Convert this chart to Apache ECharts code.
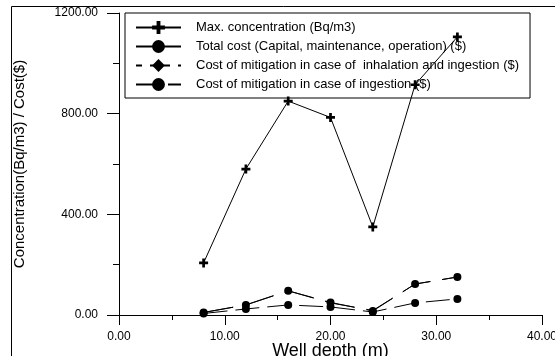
<!DOCTYPE html>
<html>
<head>
<meta charset="utf-8">
<script src="https://cdn.jsdelivr.net/npm/echarts@6/dist/echarts.min.js"></script>
<style>
  html, body { margin: 0; padding: 0; background: #fff; }
  #chart { width: 555px; height: 356px; }
</style>
</head>
<body>
<div id="chart"></div>
<script>
// well depth (m)
var depths = [8, 12, 16, 20, 24, 28, 32];
// values
var maxConc = [207, 580, 850, 785, 350, 915, 1105];
var totalCost = [10, 40, 96, 50, 16, 123, 151];
var inhalCost = [10, 40, 96, 48, 18, 123, 151];
var ingestCost = [6, 24, 40, 32, 12, 48, 64];

var names = [
  "Max. concentration (Bq/m3)",
  "Total cost (Capital, maintenance, operation) ($)",
  "Cost of mitigation in case of  inhalation and ingestion ($)",
  "Cost of mitigation in case of ingestion ($)"
];

var plus = "path://M3.5,0h3v3.5h3.5v3h-3.5v3.5h-3v-3.5h-3.5v-3h3.5z";
var font = "Liberation Sans, Arial, sans-serif";

function pairs(ys) {
  return depths.map(function (d, i) { return [d, ys[i]]; });
}

var chart = echarts.init(document.getElementById("chart"));
chart.setOption({
  animation: false,
  backgroundColor: "#fff",
  graphic: [{
    type: "rect",
    shape: { x: 11.5, y: 6.5, width: 600, height: 400 },
    style: { fill: null, stroke: "#000", lineWidth: 1 },
    z: -1
  }],
  grid: { left: 119, right: 13, top: 13, bottom: 41, outerBoundsMode: "none", containLabel: false },
  legend: {
    orient: "vertical",
    left: 125,
    top: 13,
    z: 1,
    padding: [8, 11, 7, 10],
    itemGap: 6,
    itemWidth: 45,
    itemHeight: 16,
    backgroundColor: "#fff",
    borderColor: "#000",
    borderWidth: 1,
    textStyle: { fontFamily: font, fontSize: 13, color: "#000", padding: [0, 0, 0, 10] },
    data: [
      { name: names[0] },
      { name: names[1], lineStyle: { type: "solid" } },
      { name: names[2], lineStyle: { type: [6, 8] } },
      { name: names[3], lineStyle: { type: [22, 10] } }
    ]
  },
  xAxis: {
    type: "value",
    min: 0, max: 40, interval: 10,
    name: "Well depth (m)",
    nameLocation: "middle",
    nameGap: 27,
    nameMoveOverlap: false,
    nameTextStyle: { fontFamily: font, fontSize: 18, color: "#000" },
    axisLine: { lineStyle: { color: "#000" } },
    axisTick: { length: 10, lineStyle: { color: "#000" } },
    minorTick: { show: true, splitNumber: 2, length: 5, lineStyle: { color: "#000" } },
    splitLine: { show: false },
    axisLabel: {
      margin: 16,
      fontFamily: font, fontSize: 12, color: "#000",
      formatter: function (v) { return v.toFixed(2); }
    }
  },
  yAxis: {
    type: "value",
    min: 0, max: 1200, interval: 400,
    name: "Concentration(Bq/m3) / Cost($)",
    nameLocation: "middle",
    nameGap: 92,
    nameMoveOverlap: false,
    nameTextStyle: { fontFamily: font, fontSize: 15, color: "#000" },
    axisLine: { show: true, lineStyle: { color: "#000" } },
    axisTick: { show: true, length: 12, lineStyle: { color: "#000" } },
    minorTick: { show: true, splitNumber: 2, length: 6, lineStyle: { color: "#000" } },
    splitLine: { show: false },
    axisLabel: {
      margin: 21,
      fontFamily: font, fontSize: 12, color: "#000",
      formatter: function (v) { return v.toFixed(2); }
    }
  },
  series: [
    {
      name: names[0], type: "line", data: pairs(maxConc),
      symbol: plus, symbolSize: 9,
      itemStyle: { color: "#000" },
      lineStyle: { color: "#000", width: 1 }
    },
    {
      name: names[1], type: "line", data: pairs(totalCost),
      symbol: "circle", symbolSize: 8,
      itemStyle: { color: "#000" },
      lineStyle: { color: "#000", width: 1, type: [30, 12] }
    },
    {
      name: names[2], type: "line", data: pairs(inhalCost),
      symbol: "diamond", symbolSize: 7,
      itemStyle: { color: "#000" },
      lineStyle: { color: "#000", width: 1, type: [30, 12] }
    },
    {
      name: names[3], type: "line", data: pairs(ingestCost),
      symbol: "circle", symbolSize: 8,
      itemStyle: { color: "#000" },
      lineStyle: { color: "#000", width: 1, type: [24, 8] }
    }
  ]
});
</script>
</body>
</html>
